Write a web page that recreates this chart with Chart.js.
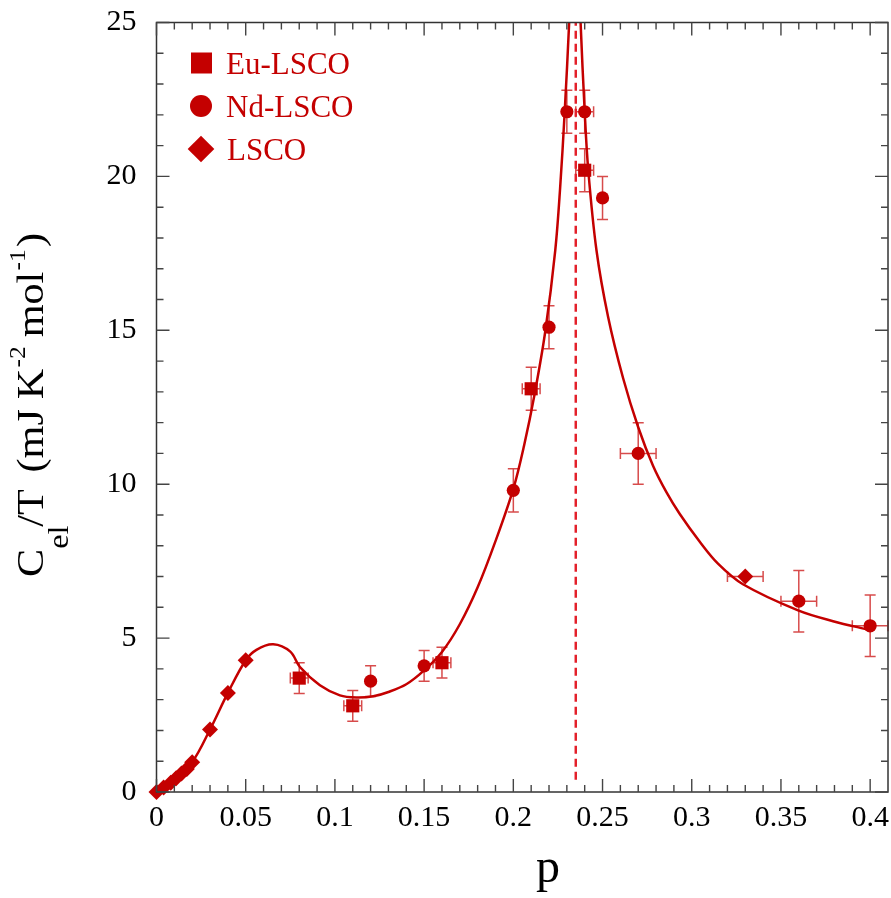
<!DOCTYPE html>
<html><head><meta charset="utf-8">
<script src="https://cdn.jsdelivr.net/npm/chart.js@4.4.1/dist/chart.umd.min.js"></script>
<style>html,body{margin:0;padding:0;background:#fff;}#wrap{width:891px;height:898px;}</style>
</head><body><div id="wrap"><canvas id="c" width="891" height="898"></canvas></div>
<script>
// ---- data ----
const euP   = [0.08, 0.11, 0.16, 0.21, 0.24];
const euV   = [3.7, 2.8, 4.2, 13.1, 20.2];
const euXErr= [0.005, 0.005, 0.005, 0.005, 0.005];
const euYErr= [0.5, 0.5, 0.5, 0.7, 0.7];

const ndP   = [0.12, 0.15, 0.20, 0.22, 0.23, 0.24, 0.25, 0.27, 0.36, 0.40];
const ndV   = [3.6, 4.1, 9.8, 15.1, 22.1, 22.1, 19.3, 11.0, 6.2, 5.4];
const ndXErr= [0, 0, 0, 0, 0, 0.005, 0, 0.01, 0.01, 0.01];
const ndYErr= [0.5, 0.5, 0.7, 0.7, 0.7, 0.7, 0.7, 1.0, 1.0, 1.0];

const lscoP   = [0, 0.004, 0.008, 0.011, 0.014, 0.017, 0.02, 0.03, 0.04, 0.05, 0.33];
const lscoV   = [0, 0.15, 0.3, 0.45, 0.6, 0.75, 0.97, 2.03, 3.22, 4.28, 7.0];
const lscoXErr= [0, 0, 0, 0, 0, 0, 0, 0, 0, 0, 0.01];
const lscoYErr= [0, 0, 0, 0, 0, 0, 0, 0, 0, 0, 0];

const fitLeftP = [0, 0.01, 0.02, 0.03, 0.04, 0.05, 0.056, 0.0654, 0.075, 0.0804, 0.0916, 0.1028, 0.112, 0.1215, 0.13, 0.14, 0.15, 0.16, 0.17, 0.18, 0.19, 0.2, 0.206, 0.212, 0.218, 0.2235, 0.2262, 0.2288, 0.2313, 0.2325];
const fitLeftV = [0, 0.42, 0.97, 2.03, 3.22, 4.28, 4.62, 4.8, 4.56, 4.06, 3.47, 3.14, 3.07, 3.11, 3.25, 3.5, 3.95, 4.55, 5.45, 6.65, 8.15, 9.85, 11.25, 12.95, 15.0, 17.6, 19.6, 22.1, 25, 26.8];
const fitRightP = [0.2365, 0.2377, 0.2400, 0.2420, 0.2466, 0.2531, 0.2615, 0.27, 0.2783, 0.2858, 0.2933, 0.3045, 0.3147, 0.3287, 0.3596, 0.3792, 0.40];
const fitRightV = [27, 25, 22.1, 20.2, 17.6, 15.44, 13.45, 11.85, 10.6, 9.74, 9.03, 8.13, 7.42, 6.75, 5.9, 5.55, 5.26];

const criticalP = 0.235;

const xTickVals   = [0, 0.05, 0.1, 0.15, 0.2, 0.25, 0.3, 0.35, 0.4];
const xTickLabels = ['0', '0.05', '0.1', '0.15', '0.2', '0.25', '0.3', '0.35', '0.4'];
const yTickVals   = [0, 5, 10, 15, 20, 25];
const yTickLabels = ['0', '5', '10', '15', '20', '25'];
const seriesNames = ['Eu-LSCO', 'Nd-LSCO', 'LSCO'];

// ---- styles ----
const RED = '#c40000';
const ERR = 'rgba(205,30,30,0.8)';
const DASH = '#e3202a';
const FONT = '"Liberation Serif", "Times New Roman", serif';

function pts(xs, ys) { return xs.map((x, i) => ({ x: x, y: ys[i] })); }

const errSets = [
  [euP, euV, euXErr, euYErr],
  [ndP, ndV, ndXErr, ndYErr],
  [lscoP, lscoV, lscoXErr, lscoYErr]
];

const errorBars = {
  id: 'errorBars',
  beforeDatasetsDraw(chart) {
    const ctx = chart.ctx, sx = chart.scales.x, sy = chart.scales.y;
    ctx.save();
    ctx.strokeStyle = ERR; ctx.lineWidth = 1.5;
    errSets.forEach(([xs, ys, xe, ye]) => {
      xs.forEach((xv, i) => {
        const px = sx.getPixelForValue(xv), py = sy.getPixelForValue(ys[i]);
        ctx.beginPath();
        if (ye[i] > 0) {
          const t = sy.getPixelForValue(ys[i] + ye[i]), b = sy.getPixelForValue(ys[i] - ye[i]);
          ctx.moveTo(px, t); ctx.lineTo(px, b);
          ctx.moveTo(px - 5.5, t); ctx.lineTo(px + 5.5, t);
          ctx.moveTo(px - 5.5, b); ctx.lineTo(px + 5.5, b);
        }
        if (xe[i] > 0) {
          const l = sx.getPixelForValue(xv - xe[i]), r = sx.getPixelForValue(xv + xe[i]);
          ctx.moveTo(l, py); ctx.lineTo(r, py);
          ctx.moveTo(l, py - 5.5); ctx.lineTo(l, py + 5.5);
          ctx.moveTo(r, py - 5.5); ctx.lineTo(r, py + 5.5);
        }
        ctx.stroke();
      });
    });
    ctx.restore();
  }
};

const frame = {
  id: 'frame',
  afterDraw(chart) {
    const ctx = chart.ctx, a = chart.chartArea, sx = chart.scales.x, sy = chart.scales.y;
    ctx.save();
    ctx.strokeStyle = '#333'; ctx.lineWidth = 1.5;
    ctx.strokeRect(a.left, a.top, a.right - a.left, a.bottom - a.top);
    ctx.strokeStyle = '#444'; ctx.lineWidth = 1.4;
    ctx.beginPath();
    for (let k = 0; k <= 40; k++) {
      const v = k / 100, px = sx.getPixelForValue(v);
      const len = (k % 5 === 0) ? 13 : 7;
      ctx.moveTo(px, a.bottom); ctx.lineTo(px, a.bottom - len);
      ctx.moveTo(px, a.top); ctx.lineTo(px, a.top + len);
    }
    for (let k = 0; k <= 25; k++) {
      const py = sy.getPixelForValue(k);
      const len = (k % 5 === 0) ? 13 : 7;
      ctx.moveTo(a.left, py); ctx.lineTo(a.left + len, py);
      ctx.moveTo(a.right, py); ctx.lineTo(a.right - len, py);
    }
    ctx.stroke();
    ctx.restore();
  }
};

const titles = {
  id: 'titles',
  afterDraw(chart) {
    const ctx = chart.ctx;
    ctx.save();
    ctx.fillStyle = '#000';
    ctx.font = '48px ' + FONT;
    ctx.textAlign = 'center'; ctx.textBaseline = 'alphabetic';
    ctx.fillText('p', 548, 882);
    ctx.restore();
    ctx.save();
    ctx.fillStyle = '#000';
    ctx.textAlign = 'left'; ctx.textBaseline = 'alphabetic';
    // [text, fontSize, baselineShift, gapBefore]
    const segs = [
      ['C', 38, 0, 0], ['el', 29, 25, 0], ['/T', 38, 0, -1], ['(mJ', 38, 0, 15],
      ['K', 38, 0, 9], ['-2', 23, -18, 1], ['mol', 38, 0, 8], ['-1', 23, -18, 1], [')', 38, 0, 2]
    ];
    let total = 0;
    const widths = segs.map(([t, s, dy, g]) => { ctx.font = s + 'px ' + FONT; const w = ctx.measureText(t).width; total += g + w; return w; });
    const k = 344 / total;
    ctx.translate(43, 577);
    ctx.rotate(-Math.PI / 2);
    ctx.scale(k, 1);
    let x = 0;
    segs.forEach(([t, s, dy, g], i) => {
      x += g;
      ctx.font = s + 'px ' + FONT;
      ctx.fillText(t, x, dy);
      x += widths[i];
    });
    ctx.restore();
  }
};

const legendBox = {
  id: 'legendBox',
  afterDraw(chart) {
    const ctx = chart.ctx;
    ctx.save();
    ctx.fillStyle = RED;
    ctx.fillRect(201.5 - 10.5, 63 - 10.5, 21, 21);
    ctx.beginPath(); ctx.arc(201, 106, 11, 0, Math.PI * 2); ctx.fill();
    ctx.beginPath(); ctx.moveTo(201, 149 - 13.3); ctx.lineTo(214.3, 149); ctx.lineTo(201, 149 + 13.3); ctx.lineTo(187.7, 149); ctx.closePath(); ctx.fill();
    ctx.font = '31px ' + FONT; ctx.textAlign = 'left'; ctx.textBaseline = 'alphabetic';
    ctx.fillText(seriesNames[0], 226, 73.5);
    ctx.fillText(seriesNames[1], 226, 116.5);
    ctx.fillText(seriesNames[2], 227, 159.5);
    ctx.restore();
  }
};

new Chart(document.getElementById('c'), {
  type: 'scatter',
  data: {
    datasets: [
      { label: seriesNames[0], data: pts(euP, euV), pointStyle: 'rect', pointRadius: 9.3, backgroundColor: RED, borderColor: RED, borderWidth: 0, showLine: false, clip: false },
      { label: seriesNames[1], data: pts(ndP, ndV), pointStyle: 'circle', pointRadius: 6.6, backgroundColor: RED, borderColor: RED, borderWidth: 0, showLine: false, clip: false },
      { label: seriesNames[2], data: pts(lscoP, lscoV), pointStyle: 'rectRot', pointRadius: 8, backgroundColor: RED, borderColor: RED, borderWidth: 0, showLine: false, clip: false },
      { label: 'fit-left', data: pts(fitLeftP, fitLeftV), showLine: true, pointRadius: 0, borderColor: RED, borderWidth: 2.5, tension: 0.35, fill: false },
      { label: 'fit-right', data: pts(fitRightP, fitRightV), showLine: true, pointRadius: 0, borderColor: RED, borderWidth: 2.5, tension: 0.35, fill: false },
      { label: 'p*', data: [{ x: criticalP, y: 0.4 }, { x: criticalP, y: 25 }], showLine: true, pointRadius: 0, borderColor: DASH, borderWidth: 2.5, borderDash: [8, 5] }
    ]
  },
  options: {
    responsive: false, animation: false, devicePixelRatio: 1,
    layout: { autoPadding: false, padding: { top: 22.5, right: 3, bottom: 0, left: 0 } },
    plugins: { legend: { display: false }, tooltip: { enabled: false } },
    scales: {
      x: {
        type: 'linear', min: 0, max: 0.41,
        grid: { display: false, drawTicks: false, tickLength: 0 }, border: { display: false },
        afterBuildTicks: s => { s.ticks = xTickVals.map(v => ({ value: v })); },
        afterFit: s => { s.height = 106; s.paddingLeft = 0; s.paddingRight = 0; },
        ticks: { padding: 8, color: '#000', font: { family: FONT, size: 30 }, maxRotation: 0, autoSkip: false,
          callback: (v, i) => xTickLabels[i] }
      },
      y: {
        type: 'linear', min: 0, max: 25,
        grid: { display: false, drawTicks: false, tickLength: 0 }, border: { display: false },
        afterBuildTicks: s => { s.ticks = yTickVals.map(v => ({ value: v })); },
        afterFit: s => { s.width = 156.5; s.paddingTop = 0; s.paddingBottom = 0; },
        ticks: { padding: 20, color: '#000', font: { family: FONT, size: 30 }, autoSkip: false,
          callback: (v, i) => yTickLabels[i] }
      }
    }
  },
  plugins: [errorBars, frame, titles, legendBox]
});
</script>
</body></html>
